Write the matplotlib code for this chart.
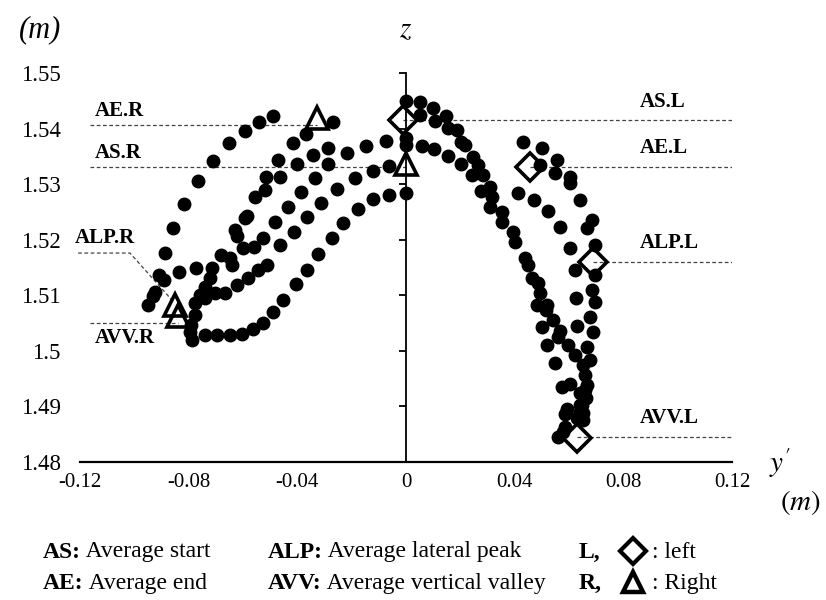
import matplotlib
matplotlib.use('Agg')
import matplotlib.pyplot as plt
from matplotlib.lines import Line2D

plt.rcParams['font.family'] = 'Liberation Serif'
plt.rcParams['mathtext.fontset'] = 'stix'

# --- trajectory dots, right hand (y' < 0) ---
r1_x = [-0.0950, -0.0931, -0.0924, -0.0909, -0.0891, -0.0887, -0.0858, -0.0817, -0.0766, -0.0710, -0.0652, -0.0593, -0.0541, -0.0490]
r1_y = [1.5082, 1.5099, 1.5106, 1.5136, 1.5127, 1.5176, 1.5221, 1.5264, 1.5306, 1.5342, 1.5374, 1.5396, 1.5412, 1.5423]

r2_x = [-0.0836, -0.0773, -0.0714, -0.0681, -0.0648, -0.0640, -0.0629, -0.0622, -0.0593, -0.0600, -0.0560, -0.0526, -0.0545, -0.0512,
        -0.0582, -0.0622, -0.0666, -0.0703, -0.0740, -0.0721, -0.0740, -0.0758, -0.0777, -0.0777, -0.0791, -0.0795, -0.0788]
r2_y = [1.5142, 1.5149, 1.5149, 1.5172, 1.5167, 1.5154, 1.5217, 1.5207, 1.5239, 1.5185, 1.5187, 1.5203, 1.5145, 1.5154,
        1.5131, 1.5118, 1.5104, 1.5104, 1.5095, 1.5131, 1.5115, 1.5100, 1.5086, 1.5064, 1.5046, 1.5034, 1.5019]

r3_x = [-0.0740, -0.0696, -0.0648, -0.0604, -0.0563, -0.0526, -0.0490, -0.0453, -0.0405, -0.0364, -0.0324, -0.0272, -0.0232, -0.0177, -0.0121, -0.0063, 0.0]
r3_y = [1.5028, 1.5028, 1.5028, 1.5030, 1.5039, 1.5050, 1.5070, 1.5091, 1.5120, 1.5145, 1.5174, 1.5203, 1.5230, 1.5255, 1.5273, 1.5280, 1.5284]

r4_x = [-0.0464, -0.0412, -0.0364, -0.0313, -0.0254, -0.0188, -0.0121, -0.0063]
r4_y = [1.5190, 1.5214, 1.5241, 1.5266, 1.5291, 1.5311, 1.5324, 1.5333]

r5_x = [-0.0482, -0.0434, -0.0387, -0.0335, -0.0287, -0.0217, -0.0147, -0.0074]
r5_y = [1.5232, 1.5259, 1.5286, 1.5311, 1.5336, 1.5356, 1.5369, 1.5378]

r6_x = [-0.0585, -0.0556, -0.0519, -0.0515, -0.0471, -0.0416, -0.0368, -0.0269, -0.0464, -0.0401, -0.0342, -0.0287]
r6_y = [1.5243, 1.5277, 1.5289, 1.5313, 1.5343, 1.5374, 1.5390, 1.5412, 1.5313, 1.5336, 1.5352, 1.5365]

# --- trajectory dots, left hand (y' > 0) ---
l1_x = [0.0, 0.0052, 0.0099, 0.0147, 0.0188, 0.0217, 0.0265, 0.0309, 0.0353, 0.0401, 0.0449, 0.0486, 0.0519, 0.0567, 0.0622, 0.0659, 0.0663, 0.0652]
l1_y = [1.5450, 1.5448, 1.5437, 1.5423, 1.5397, 1.5370, 1.5334, 1.5295, 1.5250, 1.5196, 1.5154, 1.5122, 1.5082, 1.5036, 1.4992, 1.4956, 1.4915, 1.4888]

l2_x = [0.0052, 0.0107, 0.0155, 0.0202, 0.0247, 0.0283, 0.0317, 0.0309, 0.0353, 0.0394, 0.0438, 0.0464, 0.0493, 0.0515, 0.0560,
        0.0596, 0.0652, 0.0666, 0.0640, 0.0629, 0.0585, 0.0560]
l2_y = [1.5424, 1.5414, 1.5401, 1.5376, 1.5349, 1.5316, 1.5277, 1.5259, 1.5232, 1.5214, 1.5167, 1.5131, 1.5104, 1.5073, 1.5025,
        1.5010, 1.4974, 1.4938, 1.4902, 1.4879, 1.4863, 1.4845]

l3_x = [0.0, 0.0, 0.0059, 0.0103, 0.0155, 0.0202, 0.0243, 0.0276, 0.0482, 0.0541, 0.0501, 0.0519, 0.0548, 0.0574, 0.0604,
        0.0593, 0.0585, 0.0578, 0.0640, 0.0648, 0.0640, 0.0659, 0.0652]
l3_y = [1.5383, 1.5370, 1.5369, 1.5363, 1.5351, 1.5336, 1.5316, 1.5288, 1.5082, 1.5055, 1.5043, 1.5010, 1.4978, 1.4935, 1.4940,
        1.4895, 1.4886, 1.4854, 1.4924, 1.4902, 1.4890, 1.4929, 1.4875]

l4_x = [0.0431, 0.0501, 0.0556, 0.0548, 0.0604, 0.0604, 0.0640, 0.0685, 0.0666, 0.0696, 0.0622, 0.0696, 0.0685, 0.0626, 0.0696,
        0.0677, 0.0629, 0.0688, 0.0666, 0.0677, 0.0493]
l4_y = [1.5376, 1.5365, 1.5343, 1.5320, 1.5313, 1.5302, 1.5271, 1.5235, 1.5221, 1.5190, 1.5145, 1.5136, 1.5109, 1.5095, 1.5088,
        1.5061, 1.5045, 1.5034, 1.5007, 1.4983, 1.5334]

l5_x = [0.0412, 0.0471, 0.0523, 0.0567, 0.0604]
l5_y = [1.5284, 1.5271, 1.5252, 1.5223, 1.5185]

# --- average points: AS, AE, ALP, AVV ---
avg_names = ['AS', 'AE', 'ALP', 'AVV']
right_avg_x = [0.0, -0.0328, -0.0850, -0.0839]
right_avg_y = [1.5336, 1.5419, 1.5082, 1.5063]
left_avg_x = [-0.0011, 0.0456, 0.0688, 0.0629]
left_avg_y = [1.5415, 1.5331, 1.5160, 1.4843]

# reference levels of the dashed guide lines
right_level = [1.5331, 1.5406, 1.5176, 1.5050]
left_level = [1.5415, 1.5331, 1.5160, 1.4845]

xticks = [-0.12, -0.08, -0.04, 0, 0.04, 0.08, 0.12]
xtick_labels = ['-0.12', '-0.08', '-0.04', '0', '0.04', '0.08', '0.12']
yticks = [1.48, 1.49, 1.50, 1.51, 1.52, 1.53, 1.54, 1.55]
ytick_labels = ['1.48', '1.49', '1.5', '1.51', '1.52', '1.53', '1.54', '1.55']

fig = plt.figure(figsize=(8.26, 6), dpi=100)
ax = fig.add_axes([0.0969, 0.23, 0.7893, 0.6483])
ax.set_xlim(-0.12, 0.12)
ax.set_ylim(1.48, 1.55)

dot = dict(ls='none', marker='o', ms=9, color='black', zorder=3)
for xs, ys in [(r1_x, r1_y), (r2_x, r2_y), (r3_x, r3_y), (r4_x, r4_y), (r5_x, r5_y), (r6_x, r6_y),
               (l1_x, l1_y), (l2_x, l2_y), (l3_x, l3_y), (l4_x, l4_y), (l5_x, l5_y)]:
    ax.plot(xs, ys, **dot)

ax.plot(right_avg_x, right_avg_y, ls='none', marker='^', ms=16, mfc='none', mec='black', mew=2.6, zorder=4)
ax.plot(left_avg_x, left_avg_y, ls='none', marker='D', ms=14, mfc='none', mec='black', mew=2.6, zorder=4)

# dashed guide lines
guide = dict(colors='#444444', linestyles=(0, (3, 2)), linewidth=0.9, zorder=1)
x_start = -0.1163
for i in [0, 1, 3]:
    ax.hlines(right_level[i], x_start, right_avg_x[i], **guide)
ax.plot([-0.1207, -0.1016, right_avg_x[2] - 0.0011], [right_level[2], right_level[2], right_avg_y[2] + 0.0009],
        color='#444444', ls=(0, (3, 2)), lw=0.9, clip_on=False, zorder=1)
for i in range(4):
    ax.hlines(left_level[i], left_avg_x[i], 0.12, **guide)

lab = dict(fontsize=15, weight='bold', ha='left', va='center')
ax.text(-0.1145, 1.5356, 'AS.R', **lab)
ax.text(-0.1145, 1.5432, 'AE.R', **lab)
ax.text(-0.1218, 1.5203, 'ALP.R', clip_on=False, **lab)
ax.text(-0.1145, 1.5023, 'AVV.R', **lab)
ax.text(0.0861, 1.5448, 'AS.L', **lab)
ax.text(0.0861, 1.5365, 'AE.L', **lab)
ax.text(0.0861, 1.5194, 'ALP.L', **lab)
ax.text(0.0861, 1.4879, 'AVV.L', **lab)

# axes: vertical axis through y'=0, labels kept at the left edge
for s in ['top', 'right']:
    ax.spines[s].set_visible(False)
ax.spines['left'].set_position(('data', 0))
ax.spines['left'].set_linewidth(1.3)
ax.spines['bottom'].set_linewidth(1.6)
ax.set_yticks(yticks)
ax.tick_params(axis='y', direction='out', length=5, width=1.3, labelleft=False)
ax.set_xticks(xticks, labels=xtick_labels)
ax.tick_params(axis='x', length=0, pad=8, labelsize=15)

ylab = ax.secondary_yaxis('left')
ylab.set_yticks(yticks, labels=ytick_labels)
ylab.spines['left'].set_visible(False)
ylab.tick_params(length=0, pad=14, labelsize=16.5)

fig.text(0.048, 0.95, '(m)', style='italic', fontsize=22, ha='center', va='center')
fig.text(0.4915, 0.95, '$z$', fontsize=21, ha='center', va='center')
fig.text(0.944, 0.228, "$y'$", fontsize=21, ha='center', va='center')
fig.text(0.969, 0.163, '$(m)$', fontsize=21, ha='center', va='center')

# legend text underneath
leg_rows = [0.08, 0.0283]
leg_cols = [0.052, 0.3245]
leg_items = [[('AS:', ' Average start'), ('ALP:', ' Average lateral peak')],
             [('AE:', ' Average end'), ('AVV:', ' Average vertical valley')]]
for r, row in enumerate(leg_items):
    for c, (key, desc) in enumerate(row):
        t = fig.text(leg_cols[c], leg_rows[r], key, fontsize=17, weight='bold', va='center')
        ax.annotate(desc, xy=(1, 0.5), xycoords=t, fontsize=17, va='center', ha='left', annotation_clip=False)

fig.text(0.70, leg_rows[0], 'L,', fontsize=17, weight='bold', va='center')
fig.text(0.70, leg_rows[1], 'R,', fontsize=17, weight='bold', va='center')
fig.add_artist(Line2D([0.7663], [leg_rows[0] + 0.002], transform=fig.transFigure, marker='D', ms=13,
                      mfc='none', mec='black', mew=3))
fig.add_artist(Line2D([0.7663], [leg_rows[1] + 0.002], transform=fig.transFigure, marker='^', ms=15,
                      mfc='none', mec='black', mew=3.2))
fig.text(0.789, leg_rows[0], ': left', fontsize=17, va='center')
fig.text(0.789, leg_rows[1], ': Right', fontsize=17, va='center')

fig.savefig('out.png', dpi=100)
